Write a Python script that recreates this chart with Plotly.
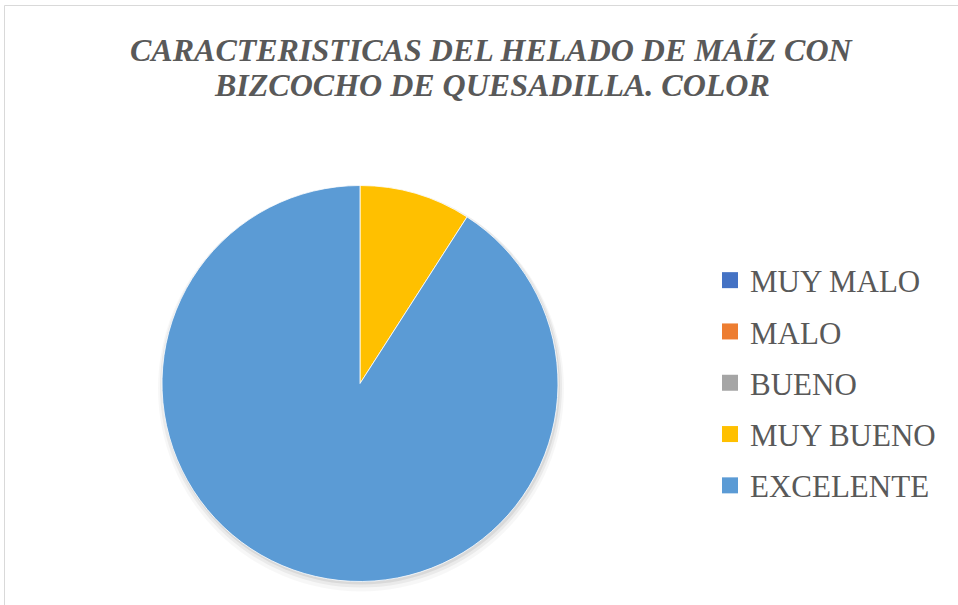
import plotly.graph_objects as go

title_lines = ["CARACTERISTICAS DEL HELADO DE MAÍZ CON", "BIZCOCHO DE QUESADILLA. COLOR"]
categories = ["MUY MALO", "MALO", "BUENO", "MUY BUENO", "EXCELENTE"]
values = [0, 0, 0, 1, 10]
colors = ["#4472C4", "#ED7D31", "#A5A5A5", "#FFC000", "#5B9BD5"]

W, H = 958, 605
serif = "Liberation Serif, Times New Roman, serif"
gray = "#595959"

# pie box in pixels: left, right, top, bottom
pl, pr, pt, pb = 162, 558, 185, 582


def dom(l, r, t, b):
    return dict(x=[l / W, r / W], y=[(H - b) / H, (H - t) / H])


fig = go.Figure()

# soft shadow under the pie
for grow, dy, alpha in [(5, 5, 0.03), (3, 3, 0.05), (1, 2, 0.07)]:
    fig.add_trace(
        go.Pie(
            values=[sum(values)],
            marker=dict(colors=[f"rgba(0,0,0,{alpha})"], line=dict(width=0)),
            textinfo="none",
            hoverinfo="skip",
            showlegend=False,
            domain=dom(pl - grow + 1, pr + grow + 1, pt - grow + dy, pb + grow + dy),
        )
    )

fig.add_trace(
    go.Pie(
        labels=categories,
        values=values,
        marker=dict(colors=colors, line=dict(color="white", width=0.8)),
        sort=False,
        direction="clockwise",
        rotation=0,
        textinfo="none",
        showlegend=False,
        domain=dom(pl, pr, pt, pb),
    )
)

# legend entries, one per category
for i, (cat, col) in enumerate(zip(categories, colors)):
    fig.add_trace(
        go.Scatter(
            x=[None],
            y=[None],
            mode="markers",
            name=cat,
            legendgroup=f"g{i}",
            marker=dict(symbol="square", size=16, color=col),
        )
    )

for i, line in enumerate(title_lines):
    fig.add_annotation(
        text=line,
        xref="paper",
        yref="paper",
        x=492 / W,
        y=1 - (50 + 35 * i) / H,
        xanchor="center",
        yanchor="middle",
        showarrow=False,
        font=dict(family=serif, size=32, color=gray, weight="bold", style="italic"),
    )

fig.add_shape(
    type="rect",
    xref="paper",
    yref="paper",
    x0=4.5 / W,
    x1=1.02,
    y0=-0.02,
    y1=1 - 5.5 / H,
    line=dict(color="#D9D9D9", width=1),
    fillcolor="rgba(0,0,0,0)",
)

fig.update_layout(
    width=W,
    height=H,
    margin=dict(l=0, r=0, t=0, b=0),
    paper_bgcolor="white",
    plot_bgcolor="white",
    xaxis=dict(visible=False),
    yaxis=dict(visible=False),
    legend=dict(
        x=710 / W,
        y=1 - 383 / H,
        xanchor="left",
        yanchor="middle",
        font=dict(family=serif, size=31, color=gray),
        tracegroupgap=8,
        itemwidth=30,
        bgcolor="rgba(0,0,0,0)",
    ),
)

fig.write_html(
    "out.html",
    config={"displayModeBar": False},
    post_script="document.body.style.margin='0';",
)
